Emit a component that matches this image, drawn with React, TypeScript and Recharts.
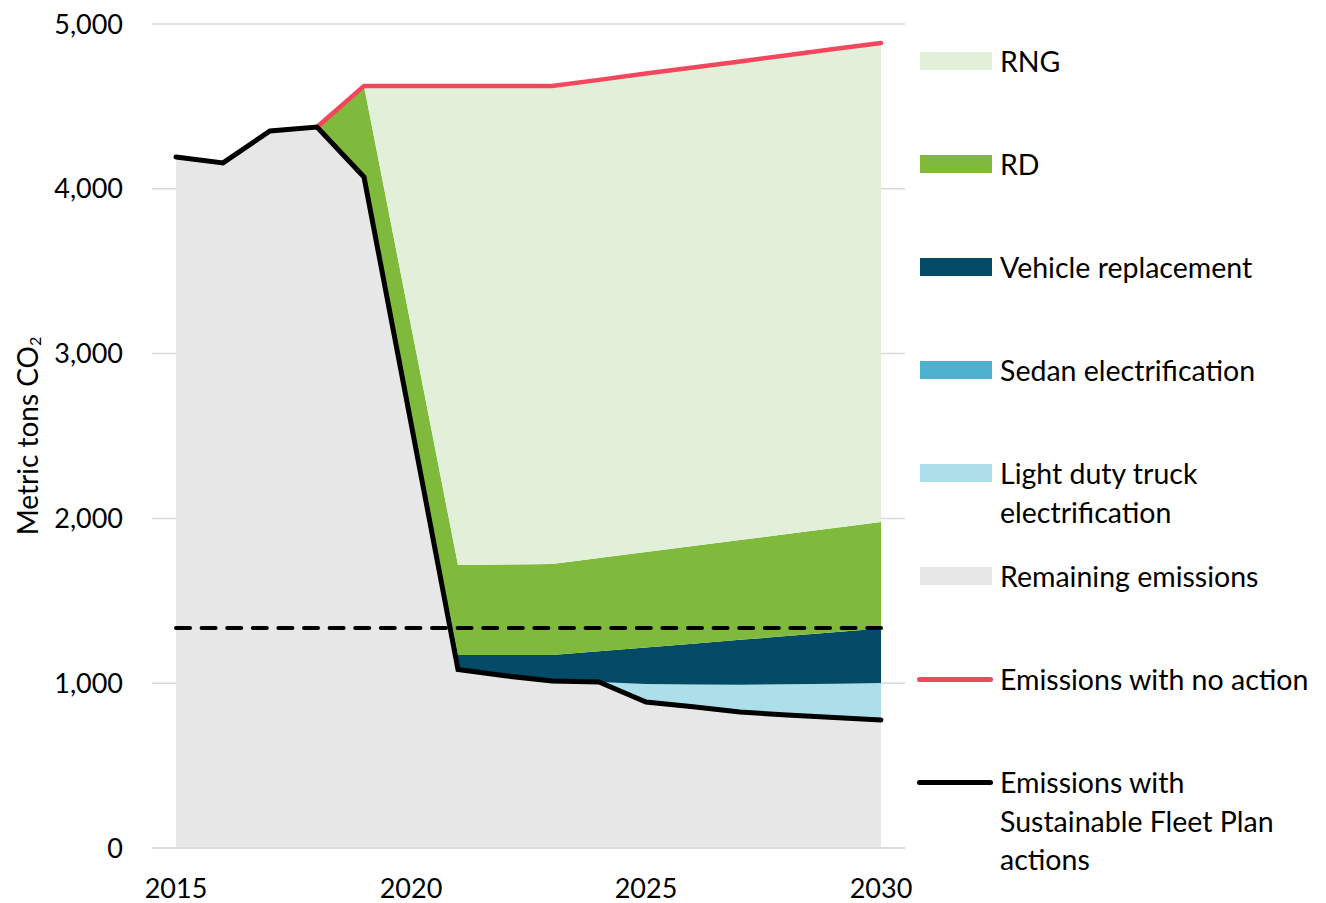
import { ComposedChart, Area, Line, XAxis, YAxis, CartesianGrid, ReferenceLine } from "recharts";

const FONT = "Lato, 'Noto Sans', sans-serif";

// values (metric tons CO2)
const years = [2015, 2016, 2017, 2018, 2019, 2020, 2021, 2022, 2023, 2024, 2025, 2026, 2027, 2028, 2029, 2030];
const remaining = [4193, 4157, 4351, 4375, 4072, 2579, 1083, 1045, 1013, 1007, 886, 857, 825, 807, 792, 777];
const lightTruck = [0, 0, 0, 0, 0, 0, 0, 0, 0, 0, 109, 135, 165, 186, 205, 224];
const sedan = [0, 0, 0, 0, 0, 0, 0, 0, 0, 0, 0, 0, 0, 0, 0, 0];
const vehicleReplacement = [0, 0, 0, 0, 0, 0, 88, 126, 158, 187, 222, 248, 273, 293, 312, 331];
const rd = [0, 0, 0, 0, 552, 591, 546, 549, 552, 565, 579, 592, 606, 619, 633, 646];
const rng = [0, 0, 0, 0, 0, 1454, 2907, 2904, 2901, 2902, 2903, 2904, 2904, 2905, 2906, 2907];
const noAction = [null, null, null, 4375, 4624, 4624, 4624, 4624, 4624, 4661, 4699, 4736, 4773, 4810, 4848, 4885];
const withPlan = [4193, 4157, 4351, 4375, 4072, 2579, 1083, 1045, 1013, 1007, 886, 857, 825, 807, 792, 777];
const TARGET = 1335;

const xTicks = [2015, 2020, 2025, 2030];
const yTicks = [0, 1000, 2000, 3000, 4000, 5000];

const data = years.map((year, i) => ({
  year,
  remaining: remaining[i],
  lightTruck: lightTruck[i],
  sedan: sedan[i],
  vehicleReplacement: vehicleReplacement[i],
  rd: rd[i],
  rng: rng[i],
  noAction: noAction[i],
  withPlan: withPlan[i],
}));

const areas = [
  { key: "remaining", color: "#E7E7E7" },
  { key: "lightTruck", color: "#ADDFEB" },
  { key: "sedan", color: "#4FB1D0" },
  { key: "vehicleReplacement", color: "#024A65" },
  { key: "rd", color: "#7FBA3D" },
  { key: "rng", color: "#E2F0D9" },
];

const legendItems = [
  { label: ["RNG"], color: "#E2F0D9", line: false },
  { label: ["RD"], color: "#7FBA3D", line: false },
  { label: ["Vehicle replacement"], color: "#024A65", line: false },
  { label: ["Sedan electrification"], color: "#4FB1D0", line: false },
  { label: ["Light duty truck", "electrification"], color: "#ADDFEB", line: false },
  { label: ["Remaining emissions"], color: "#E7E7E7", line: false },
  { label: ["Emissions with no action"], color: "#F4475E", line: true },
  { label: ["Emissions with", "Sustainable Fleet Plan", "actions"], color: "#000000", line: true },
];

const fmt = (v: number) => v.toLocaleString("en-US");

function YLabel(props: any) {
  const vb = props.viewBox;
  const cx = 19;
  const cy = vb.y + vb.height / 2;
  return (
    <text
      transform={`translate(${cx},${cy}) rotate(-90)`}
      textAnchor="middle"
      dominantBaseline="central"
      fontFamily={FONT}
      fontSize={28}
      fill="#000"
    >
      <tspan>Metric tons CO</tspan>
      <tspan fontSize={16} dy={7}>2</tspan>
    </text>
  );
}

function Legend() {
  return (
    <div style={{ position: "absolute", left: 912, top: 0, fontFamily: FONT, fontSize: 28.5, color: "#000" }}>
      {legendItems.map((item, i) => (
        <div key={i} style={{ position: "absolute", top: 34 + i * 103, left: 0, width: 400 }}>
          {item.line ? (
            <div style={{ position: "absolute", left: -3, top: 17, width: 76, height: 5, borderRadius: 3, background: item.color }} />
          ) : (
            <div style={{ position: "absolute", left: 0, top: 10, width: 72, height: 18, background: item.color }} />
          )}
          <div style={{ position: "absolute", left: 80, top: 0, lineHeight: "38.5px", whiteSpace: "nowrap" }}>
            {item.label.map((l, j) => (
              <div key={j}>{l}</div>
            ))}
          </div>
        </div>
      ))}
    </div>
  );
}

export default function App() {
  return (
    <div style={{ position: "relative", width: 1310, height: 895 }}>
      <ComposedChart
        width={1310}
        height={895}
        data={data}
        margin={{ top: 16, right: 413, left: 0, bottom: 0 }}
      >
        <CartesianGrid vertical={false} stroke="#D9D9D9" strokeWidth={1.5} />
        <XAxis
          dataKey="year"
          type="number"
          domain={[2015, 2030]}
          ticks={xTicks}
          padding={{ left: 24, right: 24 }}
          height={55}
          tickLine={false}
          tickSize={0}
          tickMargin={31}
          axisLine={{ stroke: "#D9D9D9", strokeWidth: 1.5 }}
          tick={{ fontFamily: FONT, fontSize: 27, fill: "#000" }}
        />
        <YAxis
          type="number"
          domain={[0, 5000]}
          ticks={yTicks}
          width={144}
          axisLine={false}
          tickLine={false}
          tickSize={0}
          tickMargin={29}
          tickFormatter={fmt}
          tick={{ fontFamily: FONT, fontSize: 27, fill: "#000" }}
          label={YLabel}
        />
        {areas.map((a) => (
          <Area
            key={a.key}
            dataKey={a.key}
            stackId="1"
            type="linear"
            fill={a.color}
            fillOpacity={1}
            stroke="none"
            isAnimationActive={false}
            activeDot={false}
          />
        ))}
        <ReferenceLine
          segment={[
            { x: 2015, y: TARGET },
            { x: 2030, y: TARGET },
          ]}
          stroke="#000"
          strokeWidth={4}
          strokeDasharray="14 11.6"
          strokeLinecap="round"
        />
        <Line
          dataKey="noAction"
          type="linear"
          stroke="#F4475E"
          strokeWidth={4.5}
          strokeLinecap="round"
          dot={false}
          activeDot={false}
          isAnimationActive={false}
        />
        <Line
          dataKey="withPlan"
          type="linear"
          stroke="#000"
          strokeWidth={5}
          strokeLinecap="round"
          dot={false}
          activeDot={false}
          isAnimationActive={false}
        />
      </ComposedChart>
      <Legend />
    </div>
  );
}
